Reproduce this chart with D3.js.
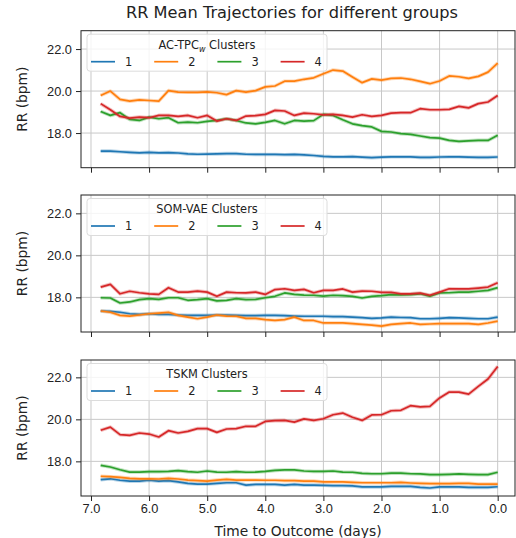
<!DOCTYPE html>
<html>
<head>
<meta charset="utf-8">
<script src="https://cdn.jsdelivr.net/npm/d3@7"></script>
<style>
  body { margin: 0; background: #fff; }
  svg { font-family: "DejaVu Sans", sans-serif; }
  .grid line { stroke: #c8c8c8; stroke-width: 1; }
  .axis path, .axis line { stroke: #222; }
  .axis text { fill: #222; font-size: 12.8px; }
</style>
</head>
<body>
<svg id="chart" width="516" height="538"></svg>
<script>
// time to outcome, days (every 4 hours)
var days = d3.range(42).map(function(i) { return (41 - i) / 6; });

var xTicks = [7, 6, 5, 4, 3, 2, 1, 0];
var yTicks = [18, 20, 22];
var clusterNames = ["1", "2", "3", "4"];
var colors = ["#1f77b4", "#ff7f0e", "#2ca02c", "#d62728"];

// AC-TPC_w clusters
var ac1 = [17.14, 17.14, 17.11, 17.08, 17.06, 17.08, 17.06, 17.07, 17.05, 17.01, 16.99, 17.0, 17.01, 17.02, 17.02, 16.99, 16.98, 16.98, 16.98, 16.97, 16.98,
           16.96, 16.93, 16.89, 16.87, 16.87, 16.88, 16.85, 16.83, 16.85, 16.87, 16.87, 16.87, 16.84, 16.84, 16.86, 16.87, 16.87, 16.85, 16.84, 16.84, 16.86];
var ac2 = [19.79, 20.0, 19.6, 19.52, 19.58, 19.55, 19.52, 20.02, 19.95, 19.94, 19.94, 19.96, 19.92, 19.83, 20.02, 19.95, 20.02, 20.2, 20.24, 20.47, 20.47,
           20.56, 20.63, 20.82, 21.0, 20.95, 20.67, 20.4, 20.58, 20.52, 20.6, 20.62, 20.56, 20.46, 20.35, 20.48, 20.72, 20.68, 20.6, 20.7, 20.9, 21.33];
var ac3 = [19.03, 18.84, 18.97, 18.65, 18.6, 18.76, 18.68, 18.73, 18.49, 18.52, 18.49, 18.56, 18.6, 18.68, 18.6, 18.48, 18.44, 18.51, 18.6, 18.44, 18.6,
           18.57, 18.59, 18.89, 18.84, 18.63, 18.44, 18.35, 18.29, 18.08, 18.05, 17.97, 17.94, 17.86, 17.78, 17.76, 17.65, 17.6, 17.63, 17.65, 17.65, 17.89];
var ac4 = [19.4, 19.11, 18.79, 18.71, 18.76, 18.73, 18.84, 18.84, 18.79, 18.84, 18.73, 18.84, 18.57, 18.68, 18.6, 18.81, 18.83, 18.89, 19.08, 19.05, 18.84,
           18.95, 18.92, 18.87, 18.89, 18.84, 18.76, 18.87, 18.79, 18.84, 18.95, 18.97, 18.97, 19.16, 19.11, 19.11, 19.13, 19.27, 19.2, 19.4, 19.48, 19.79];

// SOM-VAE clusters
var som1 = [17.35, 17.33, 17.29, 17.22, 17.19, 17.22, 17.19, 17.19, 17.16, 17.14, 17.14, 17.14, 17.16, 17.16, 17.14, 17.13, 17.13, 17.14, 17.14, 17.13, 17.11,
            17.1, 17.1, 17.1, 17.08, 17.08, 17.06, 17.03, 17.0, 17.02, 17.06, 17.04, 17.03, 16.98, 16.98, 17.0, 17.03, 17.02, 17.0, 16.98, 16.98, 17.06];
var som2 = [17.35, 17.29, 17.14, 17.11, 17.16, 17.22, 17.25, 17.29, 17.14, 17.06, 16.98, 17.06, 17.16, 17.11, 17.1, 17.0, 17.0, 16.94, 16.9, 16.94, 17.06,
            16.9, 16.9, 16.78, 16.78, 16.78, 16.75, 16.71, 16.68, 16.63, 16.71, 16.75, 16.78, 16.71, 16.73, 16.75, 16.75, 16.75, 16.75, 16.71, 16.78, 16.87];
var som3 = [17.98, 17.97, 17.73, 17.78, 17.89, 17.94, 17.9, 17.98, 17.98, 17.86, 17.89, 17.94, 17.83, 17.86, 17.94, 17.89, 17.9, 17.98, 18.05, 18.21, 18.14,
            18.11, 18.1, 18.06, 18.1, 18.08, 18.05, 17.97, 18.05, 18.08, 18.13, 18.12, 18.13, 18.17, 18.06, 18.21, 18.22, 18.25, 18.25, 18.29, 18.33, 18.46];
var som4 = [18.49, 18.62, 18.17, 18.29, 18.22, 18.17, 18.14, 18.46, 18.25, 18.25, 18.3, 18.25, 18.05, 18.25, 18.22, 18.21, 18.25, 18.14, 18.37, 18.41, 18.33,
            18.38, 18.22, 18.33, 18.33, 18.4, 18.25, 18.3, 18.29, 18.24, 18.24, 18.17, 18.17, 18.2, 18.1, 18.25, 18.41, 18.4, 18.4, 18.44, 18.49, 18.7];

// TSKM clusters
var tskm1 = [17.13, 17.17, 17.1, 17.06, 17.06, 17.1, 17.06, 17.08, 17.02, 16.95, 16.92, 16.92, 16.95, 16.98, 16.98, 16.87, 16.9, 16.9, 16.9, 16.87, 16.9,
             16.87, 16.87, 16.86, 16.84, 16.84, 16.83, 16.78, 16.78, 16.78, 16.81, 16.81, 16.81, 16.76, 16.73, 16.78, 16.78, 16.78, 16.76, 16.76, 16.76, 16.79];
var tskm2 = [17.29, 17.27, 17.24, 17.19, 17.17, 17.17, 17.16, 17.19, 17.16, 17.11, 17.08, 17.06, 17.11, 17.14, 17.11, 17.11, 17.11, 17.1, 17.1, 17.08, 17.08,
             17.06, 17.06, 17.02, 17.02, 17.02, 17.0, 16.98, 16.98, 16.98, 16.98, 17.0, 16.97, 16.95, 16.94, 16.94, 16.94, 16.95, 16.95, 16.92, 16.92, 16.92];
var tskm3 = [17.81, 17.73, 17.6, 17.49, 17.49, 17.51, 17.51, 17.52, 17.56, 17.51, 17.48, 17.54, 17.49, 17.48, 17.51, 17.48, 17.49, 17.52, 17.57, 17.59, 17.59,
             17.54, 17.52, 17.52, 17.54, 17.49, 17.48, 17.43, 17.41, 17.41, 17.44, 17.44, 17.41, 17.4, 17.37, 17.37, 17.38, 17.4, 17.38, 17.37, 17.37, 17.48];
var tskm4 = [19.48, 19.63, 19.27, 19.24, 19.35, 19.3, 19.16, 19.46, 19.35, 19.43, 19.56, 19.56, 19.38, 19.54, 19.56, 19.67, 19.67, 19.9, 19.94, 19.95, 19.87,
             20.02, 19.95, 20.03, 20.22, 20.3, 20.1, 19.95, 20.21, 20.22, 20.41, 20.43, 20.65, 20.59, 20.62, 21.02, 21.3, 21.3, 21.2, 21.57, 21.92, 22.52];

var panels = [
  { title: "AC-TPC", sub: "w", series: [ac1, ac2, ac3, ac4], top: 30.7, height: 137 },
  { title: "SOM-VAE", sub: null, series: [som1, som2, som3, som4], top: 195, height: 137 },
  { title: "TSKM", sub: null, series: [tskm1, tskm2, tskm3, tskm4], top: 360, height: 136 }
];

var svg = d3.select("#chart");
var left = 81, right = 515;

var x = d3.scaleLinear().domain([7.172, -0.298]).range([left, right]);

svg.append("text")
  .attr("x", 292).attr("y", 18)
  .attr("text-anchor", "middle")
  .style("font-size", "16.2px").attr("fill", "#222")
  .text("RR Mean Trajectories for different groups");

panels.forEach(function(p, pi) {
  var y = d3.scaleLinear().domain([16.35, 16.35 + p.height / 21]).range([p.top + p.height, p.top]);
  var g = svg.append("g");
  var last = pi === panels.length - 1;

  // grid
  var grid = g.append("g").attr("class", "grid");
  grid.selectAll(".gx").data(xTicks).enter().append("line")
    .attr("x1", function(d) { return x(d); }).attr("x2", function(d) { return x(d); })
    .attr("y1", p.top).attr("y2", p.top + p.height);
  grid.selectAll(".gy").data(yTicks).enter().append("line")
    .attr("x1", left).attr("x2", right)
    .attr("y1", function(d) { return y(d); }).attr("y2", function(d) { return y(d); });

  // lines
  var line = d3.line()
    .x(function(d, i) { return x(days[i]); })
    .y(function(d) { return y(d); });
  p.series.forEach(function(s, si) {
    g.append("path").datum(s)
      .attr("fill", "none").attr("stroke", colors[si])
      .attr("stroke-width", 3.6).attr("stroke-opacity", 0.3)
      .attr("stroke-linejoin", "round")
      .attr("d", line);
    g.append("path").datum(s)
      .attr("fill", "none").attr("stroke", colors[si])
      .attr("stroke-width", 1.7)
      .attr("stroke-linejoin", "round")
      .attr("d", line);
  });

  // axes
  var xa = d3.axisBottom(x).tickValues(xTicks).tickSize(5).tickPadding(2.5)
    .tickFormat(last ? d3.format(".1f") : function() { return ""; });
  g.append("g").attr("class", "axis")
    .attr("transform", "translate(0," + (p.top + p.height) + ")")
    .call(xa)
    .call(function(a) { a.select(".domain").remove(); });
  g.append("g").attr("class", "axis")
    .attr("transform", "translate(" + left + ",0)")
    .call(d3.axisLeft(y).tickValues(yTicks).tickSize(5).tickPadding(4).tickFormat(d3.format(".1f")))
    .call(function(a) { a.select(".domain").remove(); });

  g.append("rect")
    .attr("x", left).attr("y", p.top)
    .attr("width", right - left).attr("height", p.height)
    .attr("fill", "none").attr("stroke", "#222").attr("stroke-width", 1);

  // y label
  g.append("text")
    .attr("transform", "translate(26.5," + (p.top + p.height / 2) + ") rotate(-90)")
    .attr("text-anchor", "middle")
    .style("font-size", "13.8px").attr("fill", "#222")
    .text("RR (bpm)");

  // legend
  var lg = g.append("g").attr("transform", "translate(87," + (p.top + 3.5) + ")");
  lg.append("rect")
    .attr("width", 240).attr("height", 37).attr("rx", 3)
    .attr("fill", "#fff").attr("fill-opacity", 0.8)
    .attr("stroke", "#dcdcdc").attr("stroke-width", 1);
  var lt = lg.append("text")
    .attr("x", 120).attr("y", 14.5)
    .attr("text-anchor", "middle")
    .style("font-size", "11.4px").attr("fill", "#222");
  lt.append("tspan").text(p.title);
  if (p.sub) {
    lt.append("tspan").attr("dy", 3).style("font-size", "8px").style("font-style", "italic").text(p.sub);
    lt.append("tspan").attr("dy", -3).text(" Clusters");
  } else {
    lt.append("tspan").text(" Clusters");
  }
  clusterNames.forEach(function(name, i) {
    var ex = 4 + i * 63.2;
    lg.append("line")
      .attr("x1", ex).attr("x2", ex + 24)
      .attr("y1", 27.5).attr("y2", 27.5)
      .attr("stroke", colors[i]).attr("stroke-width", 1.7);
    lg.append("text")
      .attr("x", ex + 34).attr("y", 31.5)
      .style("font-size", "11.4px").attr("fill", "#222")
      .text(name);
  });

  if (last) {
    g.append("text")
      .attr("x", 298).attr("y", 536)
      .attr("text-anchor", "middle")
      .style("font-size", "13.8px").attr("fill", "#222")
      .text("Time to Outcome (days)");
  }
});
</script>
</body>
</html>
